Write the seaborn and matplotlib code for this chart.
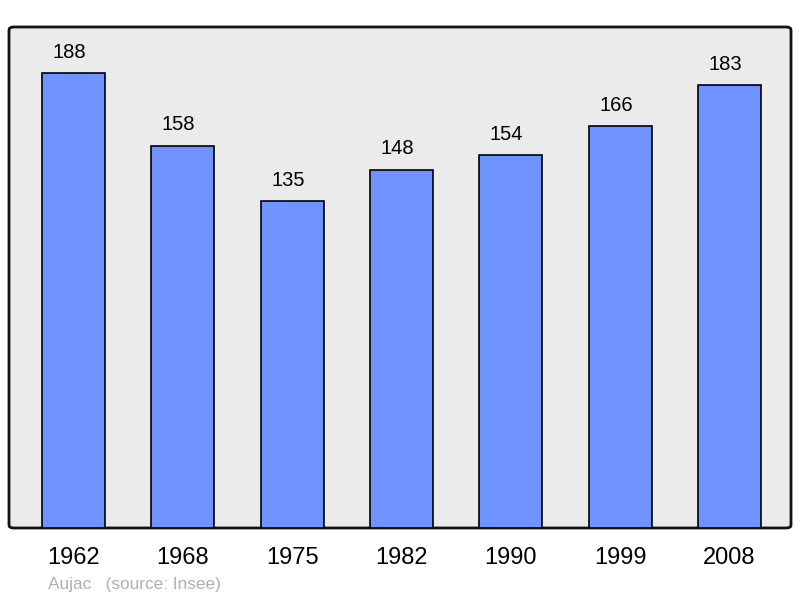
import seaborn as sns
import pandas as pd
import matplotlib.pyplot as plt
from matplotlib.patches import FancyBboxPatch

years = ["1962", "1968", "1975", "1982", "1990", "1999", "2008"]
population = [188, 158, 135, 148, 154, 166, 183]

df = pd.DataFrame({"year": years, "population": population})

sns.set_style("white")
plt.rcParams['font.family'] = ['Liberation Sans', 'DejaVu Sans']
plt.rcParams['text.color'] = 'black'
plt.rcParams['xtick.color'] = 'black'

fig = plt.figure(figsize=(8, 5.98), dpi=100)
ax = fig.add_axes([9 / 800, 70 / 598, 782 / 800, 501 / 598])
ax.set_facecolor("none")

# rounded grey background box
bg = FancyBboxPatch((0, 0), 1, 1, boxstyle="round,pad=0,rounding_size=0.006",
                    transform=ax.transAxes, facecolor="#ebebeb", edgecolor="#111111",
                    linewidth=2, zorder=0, clip_on=False)
ax.add_patch(bg)

sns.barplot(data=df, x="year", y="population", color="#7094ff", saturation=1,
            width=0.576, edgecolor="black", linewidth=1.2, ax=ax, zorder=2)

for i, v in enumerate(population):
    ax.annotate(str(v), (i, v), xytext=(-3, 15), textcoords="offset points",
                ha="center", va="center", fontsize=14.5, color="black")

ax.set_xlim(-0.59, 6.562)
ax.set_ylim(0, 207)
ax.set_yticks([])
ax.set_xlabel("")
ax.set_ylabel("")
ax.tick_params(axis="x", length=0, pad=14, labelsize=17, labelcolor="black")
for s in ax.spines.values():
    s.set_visible(False)

fig.text(48 / 800, 1 - 584 / 598, "Aujac   (source: Insee)", color="#b0b0b0",
         fontsize=12.4, va="center", ha="left")

plt.savefig("out.png", dpi=100)
